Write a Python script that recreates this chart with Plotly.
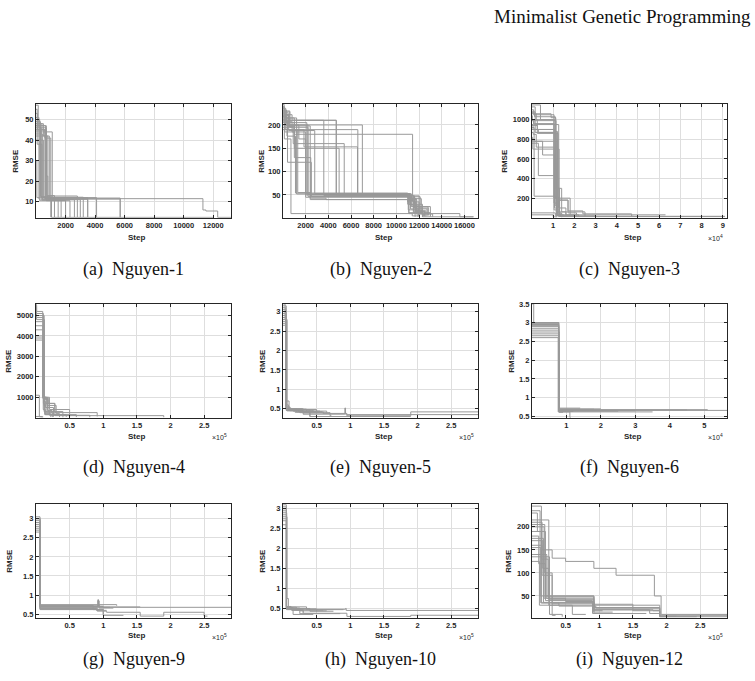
import plotly.graph_objects as go

W, H = 755, 681

# ---------------- data (best RMSE per run, step-wise) ----------------
N1_STEP = [[0, 300, 1050, 12000], [0, 150, 650, 1500], [0, 400, 700, 2000], [0, 1100, 3500],
           [0, 900, 2600], [0, 200, 700, 800, 4100], [0, 500, 5700], [0, 350, 1700],
           [0, 250, 2300], [0, 450, 3000], [0, 100, 600, 11300, 11500, 12300, 13200],
           [0, 200, 5700], [0, 350, 3200], [0, 700, 1250], [0, 80, 400, 2000],
           [0, 500, 800, 3500], [0, 60, 1000], [0, 600, 1000, 2800]]
N1_RMSE = [[49, 12.5, 2.4, 2.4], [57, 47, 11.5, 2.4], [48, 45, 10.5, 2.4], [44, 12, 2.5],
           [42, 11, 2.5], [51, 46, 22.5, 12, 2.5], [40, 11.8, 2.4], [46, 12, 2.6],
           [50, 10.5, 2.5], [43, 11, 2.4], [53, 45, 11.5, 6, 5.5, 2.4, 2.4],
           [47, 11.3, 2.4], [45, 12.2, 2.5], [47, 13, 2.5], [55, 38, 10.8, 2.5],
           [48, 42, 11.2, 2.6], [30, 12, 2.4], [45, 41, 12.8, 2.5]]

N2_STEP = [[0, 250, 1200, 11100, 11800, 12700], [0, 600, 2200, 11200, 11500, 12500],
           [0, 100, 800, 4700, 11000, 11300, 13000], [0, 400, 7000, 11100, 12000],
           [0, 300, 1000, 6600, 11350, 12200, 15600, 16800], [0, 1000, 11430, 11600, 12800],
           [0, 200, 1850, 6570, 11000, 11700, 12300], [0, 500, 1000, 4950, 11200, 12000],
           [0, 150, 1000, 2450, 11050, 11900], [0, 120, 700, 11400, 12000],
           [0, 350, 2400, 11100, 11500, 13000], [0, 800, 1300, 2400, 3800, 11000, 11800],
           [0, 450, 2100, 11000, 12000], [0, 250, 1400, 2000, 11150, 11650, 12600],
           [0, 150, 3600, 11300, 12100, 13200], [0, 500, 2800, 11250, 11950],
           [0, 900, 5400, 11100, 12400], [0, 350, 1100, 11000, 11500, 12800],
           [0, 100, 600, 2200, 11050, 11450, 12000], [0, 1300, 2000, 11350, 11650],
           [0, 600, 4700, 11100, 11750, 12500], [0, 400, 2500, 11300, 12300, 16800]]
N2_RMSE = [[235, 215, 52, 40, 20, 5], [228, 195, 51, 30, 15, 4],
           [240, 222, 210, 50, 45, 25, 5], [210, 200, 51, 12, 4],
           [232, 205, 190, 52, 42, 10, 3, 3], [215, 180, 48, 22, 6],
           [225, 190, 153, 51, 35, 12, 3], [220, 197, 150, 50, 28, 5],
           [238, 185, 130, 47, 18, 3], [230, 170, 10, 5, 5],
           [218, 198, 40, 38, 12, 3], [208, 185, 55, 43, 40, 30, 8],
           [226, 205, 52, 48, 6], [212, 200, 170, 50, 44, 16, 4],
           [236, 210, 49, 46, 9, 3], [222, 188, 53, 20, 5],
           [195, 160, 50, 10, 4], [205, 176, 54, 48, 25, 6],
           [244, 230, 200, 47, 43, 35, 5], [190, 185, 45, 40, 3],
           [215, 210, 52, 42, 15, 5], [200, 120, 47, 30, 3, 3]]

N3_STEP = [[0, 800, 10400, 12500, 17000, 24000, 47000, 48000], [0, 2000, 10400, 11500, 15000],
           [0, 1000, 10400, 12000, 13000], [0, 500, 3000, 11000, 12000, 63000],
           [0, 1500, 11500, 13000, 20000], [0, 300, 11800, 12500, 91000],
           [0, 3000, 11000, 12500, 16000, 22000], [0, 1000, 11000, 13000, 30000],
           [0, 10800, 12000, 14000, 91000], [0, 11000, 14000], [0, 10000, 11500],
           [0, 4000, 11200, 12800, 18000], [0, 200, 11300, 12000, 14000, 25000],
           [0, 600, 2000, 11900, 13500], [0, 1000, 5000, 10600, 11500],
           [0, 2500, 12300, 17000, 21000], [0, 700, 12600, 14000], [0, 1200, 11000, 11700, 13000],
           [0, 1500, 9000, 11200, 12000], [0, 400, 11000, 12200, 16000], [0, 2500, 10800, 13000]]
N3_RMSE = [[1100, 1050, 200, 180, 70, 40, 15, 15], [1060, 1000, 80, 30, 30],
           [1000, 960, 150, 20, 20], [950, 900, 870, 120, 30, 30],
           [1080, 870, 60, 25, 25], [820, 780, 40, 15, 15],
           [760, 430, 210, 100, 30, 12], [800, 220, 200, 20, 10],
           [900, 880, 50, 12, 10], [50, 20, 5], [30, 10, 5],
           [1150, 1000, 700, 200, 20], [1040, 990, 800, 300, 60, 10],
           [870, 850, 720, 35, 8], [920, 780, 640, 100, 10],
           [1000, 860, 180, 50, 15], [990, 950, 40, 12], [1070, 1030, 600, 80, 15],
           [1130, 1060, 1020, 500, 20], [780, 700, 400, 60, 20], [940, 900, 300, 10]]

N4_STEP = [[0, 1000, 10000, 15000, 28000, 91000], [0, 11000, 20000, 50000],
           [0, 12000, 18000, 28000, 190000], [0, 10500, 13000, 22000], [0, 5000, 9000],
           [0, 11500, 14000, 26000], [0, 10000, 16000, 30000, 35000],
           [0, 800, 12500, 17000, 24000], [0, 11000, 13000, 45000],
           [0, 10200, 12000, 20000, 80000], [0, 11800, 15000, 25000], [0, 10000],
           [0, 12200, 19000, 28000, 40000], [0, 300, 10800, 14000, 60000]]
N4_RMSE = [[5500, 5200, 1000, 700, 250, 60], [5100, 1000, 400, 60],
           [4700, 900, 300, 100, 20], [4000, 1050, 200, 30], [1100, 40, 10],
           [4300, 800, 500, 50], [3800, 950, 600, 200, 30],
           [5400, 4800, 1000, 350, 50], [4900, 700, 150, 40],
           [4500, 1000, 300, 120, 20], [3900, 600, 250, 30], [60, 10],
           [5000, 950, 700, 300, 20], [5570, 5000, 400, 150, 30]]

N5_STEP = [[0, 4000, 10000, 30000, 92000, 93000, 95000, 190000, 290000],
           [0, 5000, 20000, 60000, 95000, 290000], [0, 3000, 5500, 40000, 190000],
           [0, 5000, 15000, 55000], [0, 4500, 12000, 45000, 58000],
           [0, 6000, 25000, 70000, 72000], [0, 5000, 8000, 50000],
           [0, 4000, 30000, 60000], [0, 5500, 18000, 40000], [0, 5000, 35000, 65000],
           [0, 4800, 22000, 50000], [0, 5200, 9000, 28000]]
N5_RMSE = [[3.1, 0.55, 0.45, 0.36, 0.52, 0.36, 0.32, 0.42, 0.42],
           [2.9, 0.5, 0.42, 0.38, 0.35, 0.35], [3.2, 2.8, 0.48, 0.30, 0.30],
           [2.7, 0.47, 0.44, 0.44], [3.0, 0.52, 0.46, 0.42, 0.42],
           [2.8, 0.45, 0.40, 0.32, 0.32], [2.95, 0.6, 0.48, 0.43],
           [3.05, 0.5, 0.39, 0.37], [2.75, 0.45, 0.41, 0.30], [2.65, 0.49, 0.44, 0.40],
           [3.15, 0.46, 0.43, 0.38], [2.85, 0.7, 0.5, 0.45]]

N6_STEP = [[0, 500, 7800, 56600], [0, 7700, 51000], [0, 7800, 14000], [0, 7900, 35000],
           [0, 7600, 11000, 11200], [0, 7800, 25000], [0, 7700, 20000], [0, 7800, 45000],
           [0, 7750, 30000], [0, 7800, 12000], [0, 7700, 18000], [0, 7850, 9000]]
N6_RMSE = [[3.5, 3.0, 0.66, 0.66], [2.98, 0.68, 0.68], [2.95, 0.72, 0.72], [2.75, 0.62, 0.62],
           [2.6, 0.62, 0.47, 0.47], [2.9, 0.64, 0.64], [2.85, 0.7, 0.70], [2.7, 0.67, 0.67],
           [3.0, 0.65, 0.65], [2.8, 0.63, 0.63], [2.92, 0.69, 0.69], [2.65, 0.61, 0.61]]

N9_STEP = [[0, 6000, 92000, 93000, 100000, 290000],
           [0, 6500, 91000, 105000, 155000, 190000, 250000, 255000],
           [0, 6000, 100000, 130000], [0, 5500, 120000], [0, 6200, 95000, 155000],
           [0, 6000, 90000, 105000], [0, 6300, 110000], [0, 5800, 85000, 100000],
           [0, 6000, 95000], [0, 6500, 100000], [0, 6100, 92000, 94000, 115000]]
N9_RMSE = [[3.0, 0.7, 0.88, 0.70, 0.68, 0.68],
           [2.95, 0.66, 0.58, 0.55, 0.45, 0.55, 0.45, 0.45],
           [2.9, 0.63, 0.47, 0.47], [2.7, 0.75, 0.72], [2.8, 0.72, 0.69, 0.69],
           [3.05, 0.65, 0.6, 0.6], [2.75, 0.68, 0.68], [2.85, 0.73, 0.62, 0.5],
           [2.65, 0.62, 0.62], [2.9, 0.71, 0.71], [3.0, 0.69, 0.85, 0.66, 0.66]]

N10_STEP = [[0, 5000, 15000, 93000, 94000, 290000],
            [0, 5500, 13000, 30000, 95000, 190000, 290000],
            [0, 6000, 8000, 15000, 45000], [0, 5000, 25000, 85000], [0, 5200, 20000, 60000],
            [0, 4800, 40000, 75000], [0, 5000, 12000, 50000], [0, 5300, 30000],
            [0, 5100, 25000, 65000], [0, 5000, 35000, 90000]]
N10_RMSE = [[3.05, 0.52, 0.48, 0.5, 0.45, 0.45],
            [2.9, 0.5, 0.45, 0.38, 0.3, 0.33, 0.33],
            [2.8, 0.75, 0.5, 0.35, 0.35], [2.6, 0.48, 0.37, 0.37], [3.0, 0.53, 0.46, 0.46],
            [2.7, 0.5, 0.43, 0.43], [2.95, 0.55, 0.49, 0.42], [2.85, 0.47, 0.4],
            [2.75, 0.51, 0.44, 0.44], [3.1, 0.54, 0.47, 0.47]]

N12_STEP = [[0, 15000, 30000, 50000, 92000, 125000, 182000, 192000, 290000],
            [0, 15000, 30000, 35000], [0, 12000, 92000, 95000, 190000, 290000],
            [0, 18000, 92000, 190000, 245000], [0, 10000, 20000, 90000, 175000, 190000],
            [0, 8000, 14000, 93000, 190000], [0, 22000, 50000, 92000, 120000],
            [0, 16000, 25000, 90000, 100000], [0, 20000, 92000, 95000, 190000, 215000],
            [0, 11000, 60000, 80000], [0, 25000, 92000, 150000, 190000],
            [0, 14000, 24000, 92000, 105000], [0, 13000, 40000, 92000, 170000],
            [0, 19000, 30000, 92000, 180000, 190000, 290000], [0, 17000, 92000, 190000],
            [0, 26000, 45000]]
N12_RMSE = [[210, 150, 132, 125, 110, 95, 50, 10, 10],
            [160, 95, 8, 8], [235, 50, 28, 25, 8, 8],
            [200, 45, 22, 5, 5], [180, 120, 40, 20, 12, 12],
            [230, 190, 35, 30, 9], [140, 45, 38, 15, 15],
            [170, 110, 30, 12, 12], [190, 50, 26, 24, 6, 6],
            [125, 30, 10, 10], [215, 42, 32, 18, 7],
            [245, 130, 48, 18, 18], [155, 35, 28, 12, 12],
            [205, 100, 33, 20, 18, 5, 5], [175, 36, 25, 25],
            [135, 10, 5]]

LETTERS = ["(a)", "(b)", "(c)", "(d)", "(e)", "(f)", "(g)", "(h)", "(i)"]
NAMES = ["Nguyen-1", "Nguyen-2", "Nguyen-3", "Nguyen-4", "Nguyen-5",
         "Nguyen-6", "Nguyen-9", "Nguyen-10", "Nguyen-12"]

X_RANGES = [[0, 13200], [0, 17200], [0, 92000], [0, 290000], [0, 290000],
            [0, 56600], [0, 290000], [0, 290000], [0, 290000]]
Y_RANGES = [[2.2, 57.6], [1, 245], [0, 1160], [0, 5570], [0.27, 3.2],
            [0.465, 3.5], [0.41, 3.39], [0.27, 3.125], [3, 250]]

X_TICKS = [[2000, 4000, 6000, 8000, 10000, 12000],
           [2000, 4000, 6000, 8000, 10000, 12000, 14000, 16000],
           [10000, 20000, 30000, 40000, 50000, 60000, 70000, 80000, 90000],
           [50000, 100000, 150000, 200000, 250000],
           [50000, 100000, 150000, 200000, 250000],
           [10000, 20000, 30000, 40000, 50000],
           [50000, 100000, 150000, 200000, 250000],
           [50000, 100000, 150000, 200000, 250000],
           [50000, 100000, 150000, 200000, 250000]]
X_SCALE = [1, 1, 1e4, 1e5, 1e5, 1e4, 1e5, 1e5, 1e5]
EXPONENT = [None, None, 4, 5, 5, 4, 5, 5, 5]
Y_TICKS = [[10, 20, 30, 40, 50], [50, 100, 150, 200], [200, 400, 600, 800, 1000],
           [1000, 2000, 3000, 4000, 5000], [0.5, 1, 1.5, 2, 2.5, 3],
           [0.5, 1, 1.5, 2, 2.5, 3, 3.5], [0.5, 1, 1.5, 2, 2.5, 3],
           [0.5, 1, 1.5, 2, 2.5, 3], [50, 100, 150, 200]]

STEPS = [N1_STEP, N2_STEP, N3_STEP, N4_STEP, N5_STEP, N6_STEP, N9_STEP, N10_STEP, N12_STEP]
RMSES = [N1_RMSE, N2_RMSE, N3_RMSE, N4_RMSE, N5_RMSE, N6_RMSE, N9_RMSE, N10_RMSE, N12_RMSE]

# ---------------- layout geometry (pixels) ----------------
COLS = [(36, 231), (283, 478), (532, 727)]
ROWS = [(101, 216), (303, 418), (505, 620)]
CAPTION_Y = [268, 468, 662]
STEP_Y = [236, 437, 638]
EXP_Y = [236, 437, 640]
RMSE_X = [16, 262, 505, 9, 263, 512, 10, 263, 509]

LINE = "#999999"
DARK = "#262626"
GRID = "#dedede"
TICKFONT = dict(family="Liberation Sans", size=7.5, color=DARK, weight="bold")
SERIF = "Liberation Serif"

fig = go.Figure()
layout = dict(width=W, height=H, margin=dict(l=0, r=0, t=0, b=0),
              paper_bgcolor="white", plot_bgcolor="white", showlegend=False)
annotations = []


def fmt(v):
    return "%g" % v


for k in range(9):
    r, c = divmod(k, 3)
    xa = "xaxis" if k == 0 else f"xaxis{k+1}"
    ya = "yaxis" if k == 0 else f"yaxis{k+1}"
    xref = "x" if k == 0 else f"x{k+1}"
    yref = "y" if k == 0 else f"y{k+1}"
    x0, x1 = COLS[c]
    y0, y1 = ROWS[r]
    layout[xa] = dict(domain=[x0 / W, x1 / W], anchor=yref, range=X_RANGES[k],
                      showline=True, linecolor=DARK, linewidth=1, mirror="ticks",
                      ticks="inside", ticklen=3, tickcolor=DARK, tickwidth=1, tickangle=0,
                      showgrid=True, gridcolor=GRID, gridwidth=1, zeroline=False,
                      tickvals=X_TICKS[k], ticktext=[fmt(v / X_SCALE[k]) for v in X_TICKS[k]],
                      tickfont=TICKFONT)
    layout[ya] = dict(domain=[1 - y1 / H, 1 - y0 / H], anchor=xref, range=Y_RANGES[k],
                      showline=True, linecolor=DARK, linewidth=1, mirror="ticks",
                      ticks="inside", ticklen=3, tickcolor=DARK, tickwidth=1,
                      showgrid=True, gridcolor=GRID, gridwidth=1, zeroline=False,
                      tickvals=Y_TICKS[k], ticktext=[fmt(v) for v in Y_TICKS[k]],
                      tickfont=TICKFONT)
    for xs, ys in zip(STEPS[k], RMSES[k]):
        fig.add_trace(go.Scatter(x=xs, y=ys, mode="lines", line=dict(color=LINE, width=1, shape="hv"),
                                 xaxis=xref, yaxis=yref, hoverinfo="skip"))
    cx = (x0 + x1) / 2
    annotations.append(dict(text=f"{LETTERS[k]}\u00a0\u00a0{NAMES[k]}", x=cx / W, y=1 - CAPTION_Y[r] / H,
                            xref="paper", yref="paper", showarrow=False, xanchor="center", yanchor="middle",
                            font=dict(family=SERIF, size=18, color="#111111")))
    annotations.append(dict(text="Step", x=(cx + 3) / W, y=1 - STEP_Y[r] / H,
                            xref="paper", yref="paper", showarrow=False, xanchor="center", yanchor="middle",
                            font=dict(family="Liberation Sans", size=8, color=DARK, weight="bold")))
    annotations.append(dict(text="RMSE", x=RMSE_X[k] / W, y=1 - (y0 + y1) / 2 / H, textangle=-90,
                            xref="paper", yref="paper", showarrow=False, xanchor="center", yanchor="middle",
                            font=dict(family="Liberation Sans", size=8, color=DARK, weight="bold")))
    if EXPONENT[k]:
        annotations.append(dict(text=f"×10<sup>{EXPONENT[k]}</sup>", x=(x1 - 12) / W, y=1 - EXP_Y[r] / H,
                                xref="paper", yref="paper", showarrow=False, xanchor="center",
                                yanchor="middle", font=dict(family="Liberation Sans", size=7, color=DARK)))

annotations.append(dict(text="Minimalist Genetic Programming", x=753 / W, y=1 - 13 / H,
                        xref="paper", yref="paper", showarrow=False, xanchor="right", yanchor="middle",
                        font=dict(family=SERIF, size=19, color="#111111")))
layout["annotations"] = annotations
fig.update_layout(**layout)
fig.write_html("out.html")
